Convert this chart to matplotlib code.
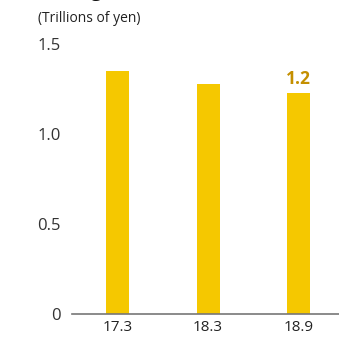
import matplotlib.pyplot as plt

# chart data
years = ["17.3", "18.3", "18.9"]
values = [1.35, 1.28, 1.23]
last_label = "1.2"
y_ticks = [0, 0.5, 1.0, 1.5]
y_tick_labels = ["0", "0.5", "1.0", "1.5"]

BAR = "#f5c800"
LABEL = "#c48f00"
TEXT = "#222222"

plt.rcParams['font.family'] = ['Open Sans', 'DejaVu Sans']

fig = plt.figure(figsize=(3.39, 3.38), dpi=100)
ax = fig.add_axes([72 / 339, 24 / 338, 267 / 339, 270 / 338])

xs = list(range(len(years)))
ax.bar(xs, values, width=0.254, color=BAR)

ax.set_xlim(-0.503, 2.447)
ax.set_ylim(0, 1.5)
ax.set_yticks(y_ticks)
ax.set_yticklabels(y_tick_labels, fontsize=12, color="#333333")
ax.set_xticks(xs)
ax.set_xticklabels(years, fontsize=11, color=TEXT)
ax.tick_params(axis='both', length=0)
ax.tick_params(axis='y', pad=8)
ax.tick_params(axis='x', pad=4)

for s in ["top", "right", "left"]:
    ax.spines[s].set_visible(False)
ax.spines["bottom"].set_color("#777777")
ax.spines["bottom"].set_linewidth(1.2)

# value label on the latest bar
ax.text(xs[-1], values[-1] + 0.025, last_label, ha='center', va='bottom',
        fontsize=12.5, fontweight='bold', color=LABEL)

fig.text(38 / 339, 1 - 19 / 338, "(Trillions of yen)", ha='left', va='center',
         fontsize=10, color=TEXT)
# title cut off at the top, only the descender shows
fig.text(96 / 339, 1 + 4 / 338, "g", ha='center', va='baseline',
         fontsize=14, fontweight='bold', color="#111111")

fig.savefig("out.png", dpi=100)
